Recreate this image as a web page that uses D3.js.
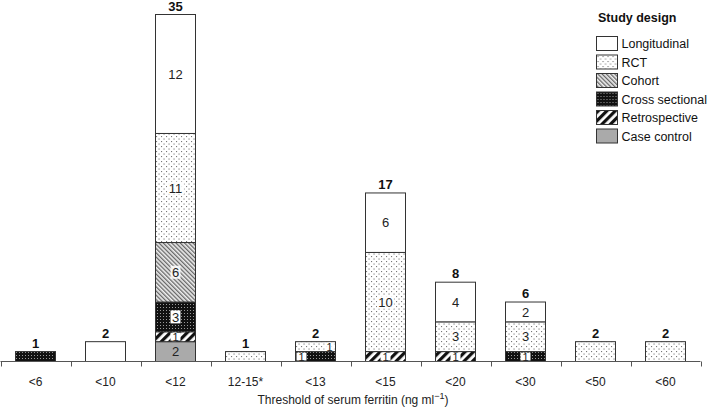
<!DOCTYPE html>
<html><head><meta charset="utf-8">
<script src="https://cdn.jsdelivr.net/npm/d3@7"></script>
<style>body{margin:0;background:#fff;}text{font-family:"Liberation Sans",Arial,sans-serif;}</style>
</head><body><svg id="c" width="709" height="410"></svg>
<script>
const categories = ["<6","<10","<12","12-15*","<13","<15","<20","<30","<50","<60"];
const designs = ["Case control","Retrospective","Cross sectional","Cohort","RCT","Longitudinal"];
const caseControl    = [0,0,2,0,0,0,0,0,0,0];
const retrospective  = [0,0,1,0,0,1,1,0,0,0];
const crossSectional = [1,0,3,0,1,0,0,1,0,0];
const cohort         = [0,0,6,0,0,0,0,0,0,0];
const rct            = [0,0,11,1,1,10,3,3,2,2];
const longitudinal   = [0,2,12,0,0,6,4,2,0,0];
const legendOrder = ["Longitudinal","RCT","Cohort","Cross sectional","Retrospective","Case control"];
const yMax = 35;

const seriesValues = {"Case control":caseControl,"Retrospective":retrospective,"Cross sectional":crossSectional,"Cohort":cohort,"RCT":rct,"Longitudinal":longitudinal};
const rows = categories.map((c,i)=>{const r={cat:c};designs.forEach(d=>r[d]=seriesValues[d][i]);return r;});
const stacked = d3.stack().keys(designs)(rows);

const svg = d3.select("#c");
const defs = svg.append("defs");
// patterns
let p = defs.append("pattern").attr("id","p-rct").attr("patternUnits","userSpaceOnUse").attr("width",5).attr("height",5);
p.append("rect").attr("width",5).attr("height",5).attr("fill","#fff");
p.append("rect").attr("x",1).attr("y",1).attr("width",1.1).attr("height",1.1).attr("fill","#777");
p.append("rect").attr("x",3.5).attr("y",3.5).attr("width",1.1).attr("height",1.1).attr("fill","#777");
p = defs.append("pattern").attr("id","p-cohort").attr("patternUnits","userSpaceOnUse").attr("width",3).attr("height",3).attr("patternTransform","rotate(-45)");
p.append("rect").attr("width",3).attr("height",3).attr("fill","#eee");
p.append("rect").attr("width",1.3).attr("height",3).attr("fill","#666");
p = defs.append("pattern").attr("id","p-cross").attr("patternUnits","userSpaceOnUse").attr("width",3).attr("height",3);
p.append("rect").attr("width",3).attr("height",3).attr("fill","#111");
p.append("rect").attr("x",1).attr("y",1).attr("width",1).attr("height",1).attr("fill","#999");
p = defs.append("pattern").attr("id","p-retro").attr("patternUnits","userSpaceOnUse").attr("width",6).attr("height",6).attr("patternTransform","rotate(45)");
p.append("rect").attr("width",6).attr("height",6).attr("fill","#fff");
p.append("rect").attr("width",3.2).attr("height",6).attr("fill","#111");

const fills = {"Longitudinal":"#fff","RCT":"url(#p-rct)","Cohort":"url(#p-cohort)","Cross sectional":"url(#p-cross)","Retrospective":"url(#p-retro)","Case control":"#aaa"};

const x = d3.scaleBand().domain(categories).range([0.5,700.5]).paddingInner(30/70).paddingOuter(15/70);
const y = d3.scaleLinear().domain([0,yMax]).range([361.5,14.5]);

// bars
stacked.forEach(s=>{
  svg.append("g").selectAll("rect").data(s.filter(d=>d[1]>d[0])).join("rect")
    .attr("x",d=>x(d.data.cat)).attr("width",x.bandwidth())
    .attr("y",d=>y(d[1])).attr("height",d=>y(d[0])-y(d[1]))
    .attr("fill",fills[s.key]).attr("stroke","#333").attr("stroke-width",1);
});

// inside labels for multi-segment bars
stacked.forEach(s=>{
  const data = s.filter(d=>d[1]>d[0] && designs.filter(k=>d.data[k]>0).length>1);
  const g = svg.append("g");
  data.forEach(d=>{
    let cx = x(d.data.cat)+x.bandwidth()/2;
    if(d.data.cat==="<13") cx += (s.key==="RCT"? 14 : -14);
    const cy = (y(d[0])+y(d[1]))/2;
    const lbl = String(d[1]-d[0]);
    if(s.key!=="Longitudinal"){
      const w = lbl.length*7+3, h = Math.min(13, y(d[0])-y(d[1])-2);
      g.append("rect").attr("x",cx-w/2).attr("y",cy-h/2).attr("width",w).attr("height",h)
        .attr("fill", s.key==="Case control"?"none":"#fff").attr("opacity", s.key==="RCT"||s.key==="Cohort"?0.85:1);
    }
    g.append("text").attr("x",cx).attr("y",cy).attr("dy","0.36em").attr("text-anchor","middle")
      .attr("font-size", (y(d[0])-y(d[1]))<12 ? 11 : 13).attr("fill","#222").text(lbl);
  });
});

// totals
svg.append("g").selectAll("text").data(rows).join("text")
  .attr("x",d=>x(d.cat)+x.bandwidth()/2)
  .attr("y",d=>y(d3.sum(designs,k=>d[k]))-4)
  .attr("text-anchor","middle").attr("font-weight","bold").attr("font-size",13).attr("fill","#111")
  .text(d=>d3.sum(designs,k=>d[k]));

// axis
const ax = svg.append("g").attr("transform","translate(0,361.5)");
ax.append("line").attr("x1",0.5).attr("x2",700.5).attr("stroke","#555");
const edges = categories.map(c=>x(c)-x.step()*x.paddingInner()/2 - (categories.indexOf(c)===0?0:0));
edges.push(700.5);
ax.selectAll(".tk").data(edges).join("line").attr("x1",d=>Math.round(d)+0.5).attr("x2",d=>Math.round(d)+0.5).attr("y1",0).attr("y2",5).attr("stroke","#555");
ax.selectAll(".lb").data(categories).join("text")
  .attr("x",d=>x(d)+x.bandwidth()/2).attr("y",24).attr("text-anchor","middle").attr("font-size",12).attr("fill","#222").text(d=>d);
const t = svg.append("text").attr("x",353).attr("y",404).attr("text-anchor","middle").attr("font-size",12).attr("fill","#222");
t.append("tspan").text("Threshold of serum ferritin (ng ml");
t.append("tspan").attr("dy",-5).attr("font-size",9).text("\u22121");
t.append("tspan").attr("dy",5).text(")");

// legend
const lg = svg.append("g");
lg.append("text").attr("x",598).attr("y",22).attr("font-weight","bold").attr("font-size",12.5).attr("fill","#111").text("Study design");
const lr = lg.selectAll(".li").data(legendOrder).join("g").attr("transform",(d,i)=>`translate(596.5,${36.5+i*18.5})`);
lr.append("rect").attr("width",21).attr("height",14).attr("fill",d=>fills[d]).attr("stroke","#333");
lr.append("text").attr("x",25).attr("y",7).attr("dy","0.36em").attr("font-size",12.5).attr("fill","#111").text(d=>d);
</script></body></html>
